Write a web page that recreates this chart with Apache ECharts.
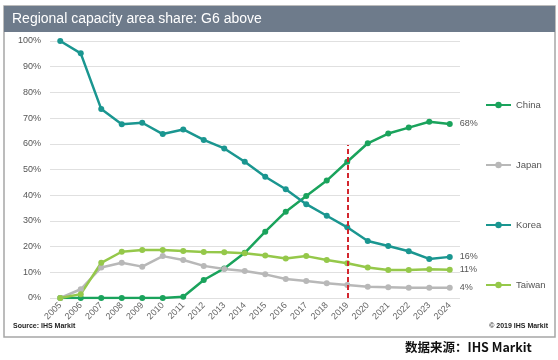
<!DOCTYPE html>
<html><head><meta charset="utf-8">
<script src="https://cdn.jsdelivr.net/npm/echarts@6/dist/echarts.min.js"></script>
<style>html,body{margin:0;padding:0;background:#fff}#c{width:558px;height:360px}</style>
</head><body><div id="c"></div>
<script>
const years = ['2005','2006','2007','2008','2009','2010','2011','2012','2013','2014','2015','2016','2017','2018','2019','2020','2021','2022','2023','2024'];
const china  = [0,0,0,0,0,0,0.5,7,11.5,17.6,25.8,33.6,39.7,45.7,53,60.2,64,66.3,68.6,67.7];
const japan  = [0,3.4,11.9,13.7,12.2,16.3,14.8,12.5,11.3,10.5,9.2,7.4,6.6,5.7,5.1,4.4,4.2,4,4,4];
const korea  = [100,95.2,73.5,67.6,68.2,63.8,65.6,61.5,58.2,53,47.2,42.3,36.5,32,27.5,22.2,20.2,18.2,15.2,16];
const taiwan = [0,1.5,13.7,18,18.7,18.7,18.3,17.9,17.8,17.4,16.5,15.4,16.3,14.8,13.5,11.9,10.9,10.9,11.2,11];
const yTicks = [0,10,20,30,40,50,60,70,80,90,100];
const markYear = '2019';
const markTop = 59.5;

const font = 'Liberation Sans, Arial, sans-serif';
function mk(name, data, color, width, extra) {
  return Object.assign({
    name, type: 'line', data, symbol: 'circle', symbolSize: 6,
    lineStyle: { color, width }, itemStyle: { color },
    endLabel: { show: true, distance: 10, color: '#555', fontFamily: font, fontSize: 9,
      formatter: p => Math.round(p.value) + '%' },
    emphasis: { disabled: true }, animation: false
  }, extra || {});
}
const chart = echarts.init(document.getElementById('c'), null, { renderer: 'canvas' });
chart.setOption({
  animation: false,
  graphic: [
    { type: 'rect', shape: { x: 4, y: 6, width: 551, height: 331 }, style: { fill: '#fff', stroke: '#a6a6a6', lineWidth: 1.5 }, z: -10 },
    { type: 'rect', shape: { x: 4, y: 6, width: 551, height: 26 }, style: { fill: '#6e7b8b' }, z: -9 },
    { type: 'text', left: 12, top: 12, style: { text: 'Regional capacity area share: G6 above', fill: '#fff', font: '14px ' + font } },
    { type: 'text', left: 13, top: 323, style: { text: 'Source: IHS Markit', fill: '#222', font: 'bold 7px ' + font } },
    { type: 'text', right: 10, top: 323, style: { text: '© 2019 IHS Markit', fill: '#222', font: 'bold 7px ' + font } },
    { type: 'text', left: 405, top: 341, style: { text: '数据来源：IHS Markit', fill: '#111', font: 'bold 12.5px "Noto Sans CJK SC", sans-serif' } }
  ],
  grid: { left: 50, right: 98, top: 41, bottom: 62 },
  legend: {
    orient: 'vertical', left: 480, top: 95, itemGap: 50, itemWidth: 25, itemHeight: 8,
    textStyle: { color: '#555', fontFamily: font, fontSize: 9.5 },
    data: ['China', 'Japan', 'Korea', 'Taiwan']
  },
  xAxis: {
    type: 'category', data: years, boundaryGap: true,
    axisLine: { show: false }, axisTick: { show: false },
    axisLabel: { rotate: 45, color: '#666', fontFamily: font, fontSize: 9, margin: 6, interval: 0 }
  },
  yAxis: {
    type: 'value', min: 0, max: 100, interval: 10,
    axisLabel: { color: '#555', fontFamily: font, fontSize: 9, margin: 9, formatter: v => yTicks.includes(v) ? v + '%' : '' },
    splitLine: { lineStyle: { color: '#e0e0e0', width: 1 } },
    axisLine: { show: false }, axisTick: { show: false }
  },
  series: [
    mk('China', china, '#1aa35c', 2.5),
    mk('Japan', japan, '#b8b8b8', 2.5),
    mk('Korea', korea, '#1a9690', 2.5, {
      markLine: {
        silent: true, symbol: 'none', label: { show: false },
        lineStyle: { color: '#d3262e', width: 2, type: [5, 3] },
        data: [[{ coord: [markYear, 0] }, { coord: [markYear, markTop] }]]
      }
    }),
    mk('Taiwan', taiwan, '#95c84a', 2.5)
  ]
});
</script></body></html>
